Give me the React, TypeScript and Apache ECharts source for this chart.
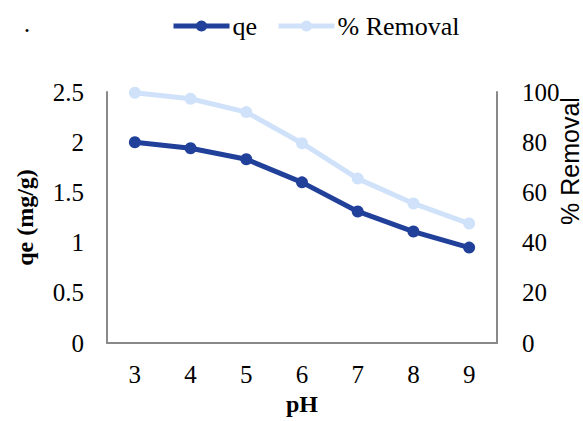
import React, { useEffect, useRef } from "react";
import * as echarts from "echarts";

const categories = ["3", "4", "5", "6", "7", "8", "9"];
const qeValues = [2.0, 1.94, 1.83, 1.6, 1.31, 1.11, 0.95];
const removalValues = [99.7, 97.3, 92.0, 79.6, 65.5, 55.6, 47.6];

const SERIF = "'Times New Roman', 'Liberation Serif', serif";
const SANS = "Liberation Sans";
const AXIS_COLOR = "#898989";
const QE_COLOR = "#21409a";
const REM_COLOR = "#cfe2f9";

export default function App() {
  const ref = useRef<HTMLDivElement>(null);
  useEffect(() => {
    if (!ref.current) return;
    const chart = echarts.init(ref.current, undefined, { renderer: "svg" });
    chart.setOption({
      animation: false,
      backgroundColor: "#ffffff",
      textStyle: { fontFamily: SERIF },
      grid: { left: 107, right: 86, top: 92, bottom: 74, containLabel: false },
      legend: {
        left: 171,
        top: 13,
        padding: 0,
        itemWidth: 56,
        itemHeight: 14,
        itemGap: 19,
        textStyle: { fontFamily: SERIF, fontSize: 26, color: "#000", padding: [0, 0, 0, -2] },
        data: [
          { name: "qe", lineStyle: { width: 5, color: QE_COLOR }, itemStyle: { color: QE_COLOR } },
          { name: "% Removal", lineStyle: { width: 5, color: REM_COLOR }, itemStyle: { color: REM_COLOR } },
        ],
      },
      graphic: [
        {
          type: "text",
          x: 27,
          y: 36,
          style: {
            text: ".",
            fontFamily: SERIF,
            fontSize: 26,
            fill: "#000",
            textAlign: "center",
            textVerticalAlign: "bottom",
          },
        },
        {
          type: "text",
          x: 570,
          y: 161,
          rotation: Math.PI / 2,
          style: {
            text: "% Removal",
            fontFamily: SANS,
            fontSize: 25,
            fill: "#000",
            textAlign: "center",
            textVerticalAlign: "middle",
          },
        },
      ],
      xAxis: {
        type: "category",
        data: categories,
        boundaryGap: true,
        name: "pH",
        nameLocation: "middle",
        nameGap: 61,
        nameTextStyle: {
          fontFamily: SERIF,
          fontSize: 24,
          fontWeight: "bold",
          color: "#000",
          verticalAlign: "middle",
        },
        axisLine: { show: true, lineStyle: { color: AXIS_COLOR, width: 2 } },
        axisTick: { show: false },
        axisLabel: { fontFamily: SERIF, fontSize: 25, color: "#000", margin: 19 },
        splitLine: { show: false },
      },
      yAxis: [
        {
          type: "value",
          min: 0,
          max: 2.5,
          interval: 0.5,
          position: "left",
          name: "qe (mg/g)",
          nameLocation: "middle",
          nameRotate: 90,
          nameGap: 82,
          nameTextStyle: {
            fontFamily: SERIF,
            fontSize: 24,
            fontWeight: "bold",
            color: "#000",
            verticalAlign: "middle",
            align: "center",
          },
          axisLine: { show: true, lineStyle: { color: AXIS_COLOR, width: 2 } },
          axisTick: { show: false },
          axisLabel: { fontFamily: SERIF, fontSize: 25, color: "#000", margin: 23 },
          splitLine: { show: false },
        },
        {
          type: "value",
          min: 0,
          max: 100,
          interval: 20,
          position: "right",
          axisLine: { show: true, lineStyle: { color: AXIS_COLOR, width: 2 } },
          axisTick: { show: false },
          axisLabel: { fontFamily: SERIF, fontSize: 25, color: "#000", margin: 25 },
          splitLine: { show: false },
        },
      ],
      series: [
        {
          name: "qe",
          type: "line",
          yAxisIndex: 0,
          data: qeValues,
          symbol: "circle",
          symbolSize: 12,
          lineStyle: { color: QE_COLOR, width: 5 },
          itemStyle: { color: QE_COLOR },
          z: 3,
        },
        {
          name: "% Removal",
          type: "line",
          yAxisIndex: 1,
          data: removalValues,
          symbol: "circle",
          symbolSize: 12,
          lineStyle: { color: REM_COLOR, width: 5 },
          itemStyle: { color: REM_COLOR },
          z: 2,
        },
      ],
    });
    return () => chart.dispose();
  }, []);
  return (
    <div
      ref={ref}
      style={{ position: "fixed", left: 0, top: 0, width: 583, height: 421 }}
    />
  );
}
